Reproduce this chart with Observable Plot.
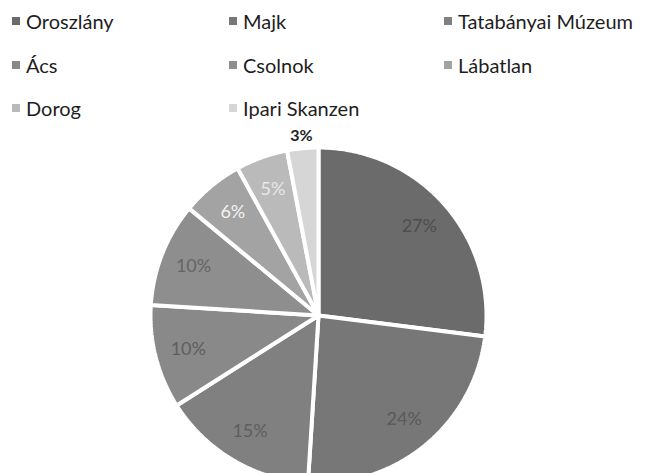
<!DOCTYPE html>
<html>
<head>
<meta charset="utf-8">
<script src="https://cdn.jsdelivr.net/npm/d3@7"></script>
<script src="https://cdn.jsdelivr.net/npm/@observablehq/plot@0.6"></script>
<style>
  html, body { margin: 0; padding: 0; background: #fff; }
  body { width: 655px; height: 473px; overflow: hidden; font-family: Lato, "Open Sans", sans-serif; }
  #legend { position: relative; height: 120px; }
  .item { position: absolute; display: flex; align-items: center; font-size: 20px; color: #1e1e1e; white-space: nowrap; line-height: 1; }
  .sw { width: 8px; height: 8px; margin-right: 6px; }
</style>
</head>
<body>
<div id="legend"></div>
<div id="chart"></div>
<script>
const categories = ["Oroszlány", "Majk", "Tatabányai Múzeum", "Ács", "Csolnok", "Lábatlan", "Dorog", "Ipari Skanzen"];
const values = [27, 24, 15, 10, 10, 6, 5, 3];
const colors = ["#6b6b6b", "#777777", "#808080", "#898989", "#8e8e8e", "#a3a3a3", "#bababa", "#d6d6d6"];
const labelColors = ["#4e4e4e", "#5a5a5a", "#5e5e5e", "#5e5e5e", "#656565", "#f2f2f2", "#e8e8e8", "#222222"];

// legend layout
const colX = [12, 229, 444];
const rowY = [21, 65, 108];
const legend = document.getElementById("legend");
categories.forEach((c, i) => {
  const d = document.createElement("div");
  d.className = "item";
  d.style.left = colX[i % 3] + "px";
  d.style.top = (rowY[Math.floor(i / 3)] - 11) + "px";
  d.style.height = "22px";
  const s = document.createElement("span");
  s.className = "sw";
  s.style.background = colors[i];
  d.appendChild(s);
  d.appendChild(document.createTextNode(c));
  legend.appendChild(d);
});

// pie layout (unit radius, clockwise from 12 o'clock)
const W = 655, H = 353, R = 168, cx = 318, cy = 195;
const arcs = d3.pie().sort(null).value(d => d)(values);
const slices = arcs.map((a, i) => {
  const pts = [{x: 0, y: 0}];
  const n = Math.max(2, Math.ceil((a.endAngle - a.startAngle) / 0.01));
  for (let k = 0; k <= n; k++) {
    const t = a.startAngle + (a.endAngle - a.startAngle) * k / n;
    pts.push({x: Math.sin(t), y: Math.cos(t)});
  }
  return {name: categories[i], pts, mid: (a.startAngle + a.endAngle) / 2, value: values[i], i};
});
const labels = slices.map(s => {
  const r = s.value <= 3 ? 1.075 : 0.8;
  return {x: r * Math.sin(s.mid), y: r * Math.cos(s.mid), text: s.value + "%", fill: labelColors[s.i], bold: s.value <= 3};
});

const plot = Plot.plot({
  width: W,
  height: H,
  margin: 0,
  x: {domain: [-cx / R, (W - cx) / R], axis: null},
  y: {domain: [-(H - cy) / R, cy / R], axis: null},
  style: {background: "transparent", overflow: "visible"},
  marks: [
    ...slices.map(s => Plot.line(s.pts, {x: "x", y: "y", fill: colors[s.i], stroke: "white", strokeWidth: 4, strokeLinejoin: "miter", curve: "linear-closed"})),
    Plot.text(labels.filter(d => !d.bold), {x: "x", y: "y", text: "text", fill: d => d.fill, fontSize: 18, fontFamily: "Lato, sans-serif"}),
    Plot.text(labels.filter(d => d.bold), {x: "x", y: "y", text: "text", fill: d => d.fill, fontSize: 16, fontWeight: "bold", fontFamily: "Lato, sans-serif"})
  ],
  color: {type: "identity"}
});
document.getElementById("chart").appendChild(plot);
</script>
</body>
</html>
